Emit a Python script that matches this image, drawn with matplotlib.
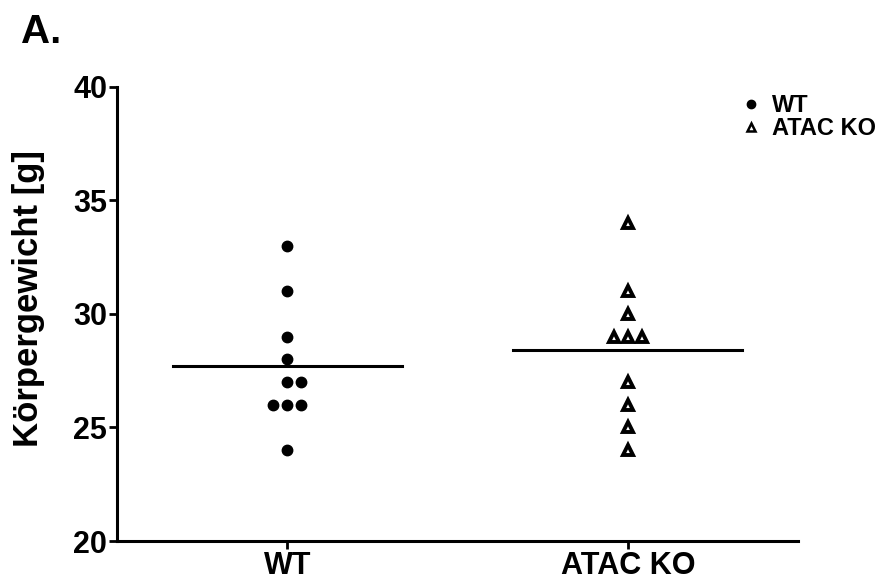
import numpy as np
import matplotlib.pyplot as plt
from matplotlib.lines import Line2D

plt.rcParams['font.family'] = ['Liberation Sans', 'DejaVu Sans']
plt.rcParams['font.weight'] = 'bold'

groups = ['WT', 'ATAC KO']
wt = [33, 31, 29, 28, 27, 27, 26, 26, 26, 24]
wt_off = [0, 0, 0, 0, 0, 1, -1, 0, 1, 0]
ko = [34, 31, 30, 29, 29, 29, 27, 26, 25, 24]
ko_off = [0, 0, 0, -1, 0, 1, 0, 0, 0, 0]
yticks = [20, 25, 30, 35, 40]

fig = plt.figure(figsize=(8.92, 5.83), dpi=100)
ax = fig.add_axes([0.131, 0.072, 0.764, 0.779])

step = 0.041
ax.plot(1 + np.array(wt_off) * step, wt, 'o', color='black', markersize=7.5,
        linestyle='none', clip_on=False)
ax.plot(2 + np.array(ko_off) * step, ko, '^', markerfacecolor='white',
        markeredgecolor='black', markeredgewidth=2.8, markersize=7,
        linestyle='none', clip_on=False)

# mean lines
for x, vals in [(1, wt), (2, ko)]:
    m = np.mean(vals)
    ax.plot([x - 0.336, x + 0.336], [m, m], color='black', linewidth=2.2)

ax.set_xlim(0.5, 2.5)
ax.set_ylim(20, 40)
ax.set_xticks([1, 2])
ax.set_xticklabels(groups)
ax.set_yticks(yticks)
ax.tick_params(labelsize=22, width=2, length=6, direction='out', pad=1)
for lbl in ax.get_xticklabels() + ax.get_yticklabels():
    lbl.set_fontweight('bold')
ax.set_ylabel('Körpergewicht [g]', fontsize=25, fontweight='bold')
ax.yaxis.set_label_coords(-0.106, 0.535)

for s in ['top', 'right']:
    ax.spines[s].set_visible(False)
for s in ['left', 'bottom']:
    ax.spines[s].set_linewidth(2.2)

handles = [
    Line2D([], [], marker='o', color='black', linestyle='none', markersize=6),
    Line2D([], [], marker='^', markerfacecolor='white', markeredgecolor='black',
           markeredgewidth=1.8, linestyle='none', markersize=5.5),
]
leg = ax.legend(handles, groups, loc='upper left', bbox_to_anchor=(0.885, 1.03),
                frameon=False, prop={'size': 17, 'weight': 'bold'},
                handletextpad=0.5, labelspacing=0.0, handlelength=0.8)

fig.text(0.024, 0.978, 'A.', fontsize=29, fontweight='bold', va='top')

fig.savefig('out.png', dpi=100)
